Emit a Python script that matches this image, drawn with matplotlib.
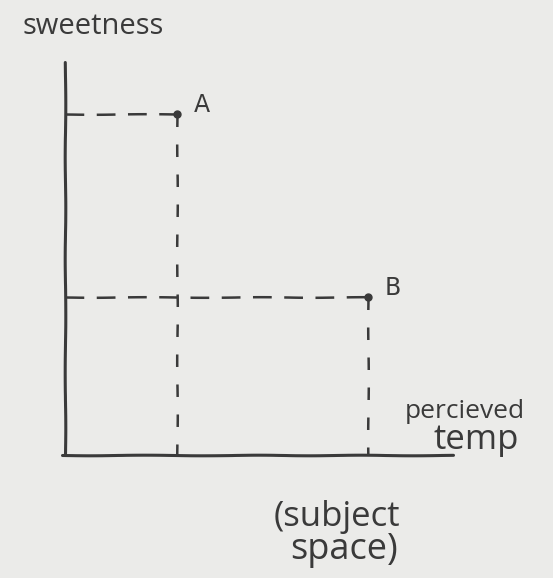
import matplotlib.pyplot as plt

# sketch of two points in "subject space"
point_names = ["A", "B"]
perceived_temp = [112, 303]   # horizontal distance from the origin
sweetness = [341, 158]        # vertical distance from the origin
x_axis_end = 388
y_axis_end = 393

ink = "#3a3a3a"
paper = "#ebebe9"

fig = plt.figure(figsize=(5.53, 5.78), dpi=100, facecolor=paper)
ax = fig.add_axes([0, 0, 1, 1])
ax.set_facecolor(paper)
# origin sits at about (65, 455) px in the picture
ax.set_xlim(-65, 553 - 65)
ax.set_ylim(-(578 - 455), 455)
ax.axis("off")

with plt.rc_context({"path.sketch": (0.3, 120, 2)}):
    ax.plot([0, 0], [0, y_axis_end], color=ink, lw=2.2, solid_capstyle="round")
    ax.plot([-3, x_axis_end], [0, 0], color=ink, lw=2.2, solid_capstyle="round")

    for name, x, y in zip(point_names, perceived_temp, sweetness):
        ax.plot([0, x], [y, y], color=ink, lw=1.8, dashes=(7.5, 5))
        ax.plot([x, x], [y, 0], color=ink, lw=1.8, dashes=(5, 7))
        ax.plot(x, y, "o", color=ink, ms=5)
        ax.text(x + 17, y + 9, name, color=ink, fontsize=17,
                family="DejaVu Sans", ha="left", va="center")

ax.text(22 - 65, 455 - 27, "sweetness", color=ink, fontsize=21,
        family="Open Sans", ha="left", va="center")
ax.text(405 - 65, 455 - 412, "percieved", color=ink, fontsize=19,
        family="Open Sans", ha="left", va="center")
ax.text(433 - 65, 455 - 440, "temp", color=ink, fontsize=25,
        family="Open Sans", ha="left", va="center")
ax.text(274 - 65, 455 - 517, "(subject", color=ink, fontsize=25,
        family="Open Sans", ha="left", va="center")
ax.text(290 - 65, 455 - 550, "space)", color=ink, fontsize=26,
        family="Open Sans", ha="left", va="center")

fig.savefig("out.png", dpi=100, facecolor=paper)
